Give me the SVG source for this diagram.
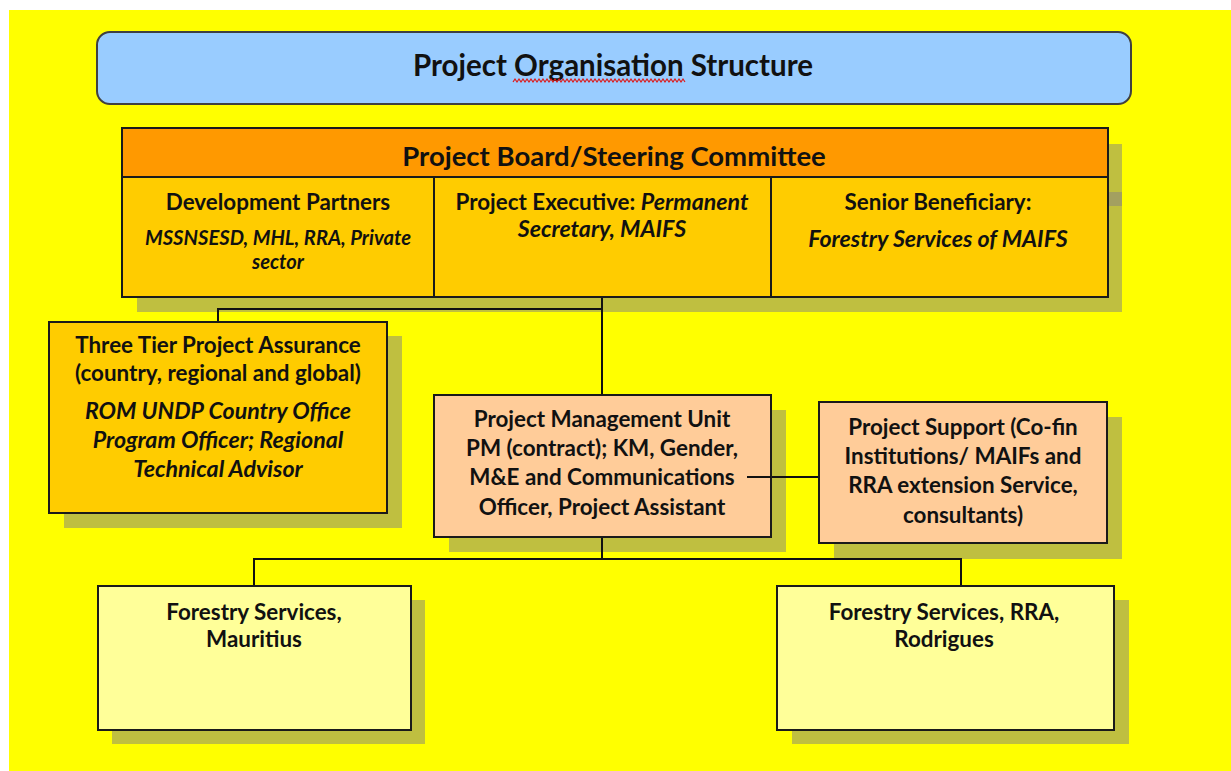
<svg xmlns="http://www.w3.org/2000/svg" width="1231" height="771" viewBox="0 0 1231 771">
  <defs>
    <style>
      text { font-family: Lato, "Liberation Sans", sans-serif; font-weight: bold; fill: #111; text-anchor: middle; }
      .t20 { font-size: 22.4px; }
      .it { font-style: italic; font-size: 23.2px; }
      .shadow { fill: #BFBF40; stroke: none; }
      .box { stroke: #1a1a1a; stroke-width: 2; }
      .board-head { fill: #FF9900; }
      .gold { fill: #FFCC00; }
      .peach { fill: #FFCC99; }
      .pale { fill: #FFFF99; }
      .conn line, .conn path { stroke: #111; stroke-width: 2; fill: none; }
    </style>
  </defs>

  <!-- page background -->
  <rect x="0" y="0" width="1231" height="771" fill="#ffffff"/>
  <rect x="9" y="10" width="1222" height="761" fill="#FFFF00"/>

  <!-- title banner -->
  <g id="title">
    <rect x="97" y="32" width="1034" height="72" rx="13" ry="13" fill="#99CCFF" stroke="#404040" stroke-width="2"/>
    <text x="613" y="76" style="font-size:29.5px">Project Organisation Structure</text>
    <!-- wavy spell-check underline, 43 zigzag periods of 4px -->
    <path d="M513 82
      l2 -3 l2 3 l2 -3 l2 3 l2 -3 l2 3 l2 -3 l2 3 l2 -3 l2 3
      l2 -3 l2 3 l2 -3 l2 3 l2 -3 l2 3 l2 -3 l2 3 l2 -3 l2 3
      l2 -3 l2 3 l2 -3 l2 3 l2 -3 l2 3 l2 -3 l2 3 l2 -3 l2 3
      l2 -3 l2 3 l2 -3 l2 3 l2 -3 l2 3 l2 -3 l2 3 l2 -3 l2 3
      l2 -3 l2 3 l2 -3 l2 3 l2 -3 l2 3 l2 -3 l2 3 l2 -3 l2 3
      l2 -3 l2 3 l2 -3 l2 3 l2 -3 l2 3 l2 -3 l2 3 l2 -3 l2 3
      l2 -3 l2 3 l2 -3 l2 3 l2 -3 l2 3 l2 -3 l2 3 l2 -3 l2 3
      l2 -3 l2 3 l2 -3 l2 3 l2 -3 l2 3 l2 -3 l2 3 l2 -3 l2 3
      l2 -3 l2 3 l2 -3 l2 3 l2 -3 l2 3" stroke="#dd1a1a" stroke-width="1.2" fill="none"/>
  </g>

  <!-- drop shadows -->
  <g id="shadows">
    <rect class="shadow" x="137" y="144" width="985" height="168"/>
    <rect x="1108" y="192" width="14" height="14" fill="#A3A060"/>
    <rect class="shadow" x="64" y="336" width="338" height="192"/>
    <rect class="shadow" x="449" y="410" width="337" height="142"/>
    <rect class="shadow" x="834" y="417" width="288" height="142"/>
    <rect class="shadow" x="112" y="600" width="313" height="144"/>
    <rect class="shadow" x="792" y="600" width="337" height="144"/>
  </g>

  <!-- connectors -->
  <g class="conn" id="connectors">
    <path d="M602 297 V395"/>
    <path d="M602 309 H218 V322"/>
    <line x1="747" y1="477" x2="819" y2="477"/>
    <path d="M602 537 V559"/>
    <path d="M254 586 V559 H961 V586"/>
  </g>

  <!-- project board / steering committee -->
  <g id="board">
    <rect class="box board-head" x="122" y="128" width="986" height="49"/>
    <rect class="box gold" x="122" y="177" width="986" height="120"/>
    <line x1="434" y1="177" x2="434" y2="297" stroke="#1a1a1a" stroke-width="2"/>
    <line x1="771" y1="177" x2="771" y2="297" stroke="#1a1a1a" stroke-width="2"/>
    <text x="614" y="166" style="font-size:27.5px">Project Board/Steering Committee</text>
    <g id="dev-partners">
      <text class="t20" x="278" y="210">Development Partners</text>
      <text class="it" x="278" y="245" style="font-size:20.2px">MSSNSESD, MHL, RRA, Private</text>
      <text class="it" x="278" y="269" style="font-size:20.2px">sector</text>
    </g>
    <g id="executive">
      <text class="t20" x="602" y="210">Project Executive: <tspan class="it">Permanent</tspan></text>
      <text class="it" x="602" y="237">Secretary, MAIFS</text>
    </g>
    <g id="senior-beneficiary">
      <text class="t20" x="938" y="210">Senior Beneficiary:</text>
      <text class="it" x="938" y="247">Forestry Services of MAIFS</text>
    </g>
  </g>

  <!-- project assurance -->
  <g id="assurance">
    <rect class="box gold" x="49" y="322" width="338" height="191"/>
    <text class="t20" x="218" y="353">Three Tier Project Assurance</text>
    <text class="t20" x="218" y="381">(country, regional and global)</text>
    <text class="it" x="218" y="419">ROM UNDP Country Office</text>
    <text class="it" x="218" y="448">Program Officer; Regional</text>
    <text class="it" x="218" y="477">Technical Advisor</text>
  </g>

  <!-- project management unit -->
  <g id="pmu">
    <rect class="box peach" x="434" y="395" width="337" height="142"/>
    <text class="t20" x="602" y="427">Project Management Unit</text>
    <text class="t20" x="602" y="456">PM (contract); KM, Gender,</text>
    <text class="t20" x="602" y="485">M&amp;E and Communications</text>
    <text class="t20" x="602" y="515">Officer, Project Assistant</text>
  </g>
  <line x1="747" y1="477" x2="771" y2="477" stroke="#111" stroke-width="2"/>

  <!-- project support -->
  <g id="support">
    <rect class="box peach" x="819" y="402" width="288" height="141"/>
    <text class="t20" x="963" y="435">Project Support (Co-fin</text>
    <text class="t20" x="963" y="464">Institutions/ MAIFs and</text>
    <text class="t20" x="963" y="493">RRA extension Service,</text>
    <text class="t20" x="963" y="523">consultants)</text>
  </g>

  <!-- field units -->
  <g id="fs-mauritius">
    <rect class="box pale" x="98" y="586" width="313" height="144"/>
    <text class="t20" x="254" y="620">Forestry Services,</text>
    <text class="t20" x="254" y="647">Mauritius</text>
  </g>
  <g id="fs-rodrigues">
    <rect class="box pale" x="777" y="586" width="337" height="144"/>
    <text class="t20" x="944" y="620">Forestry Services, RRA,</text>
    <text class="t20" x="944" y="647">Rodrigues</text>
  </g>
</svg>
